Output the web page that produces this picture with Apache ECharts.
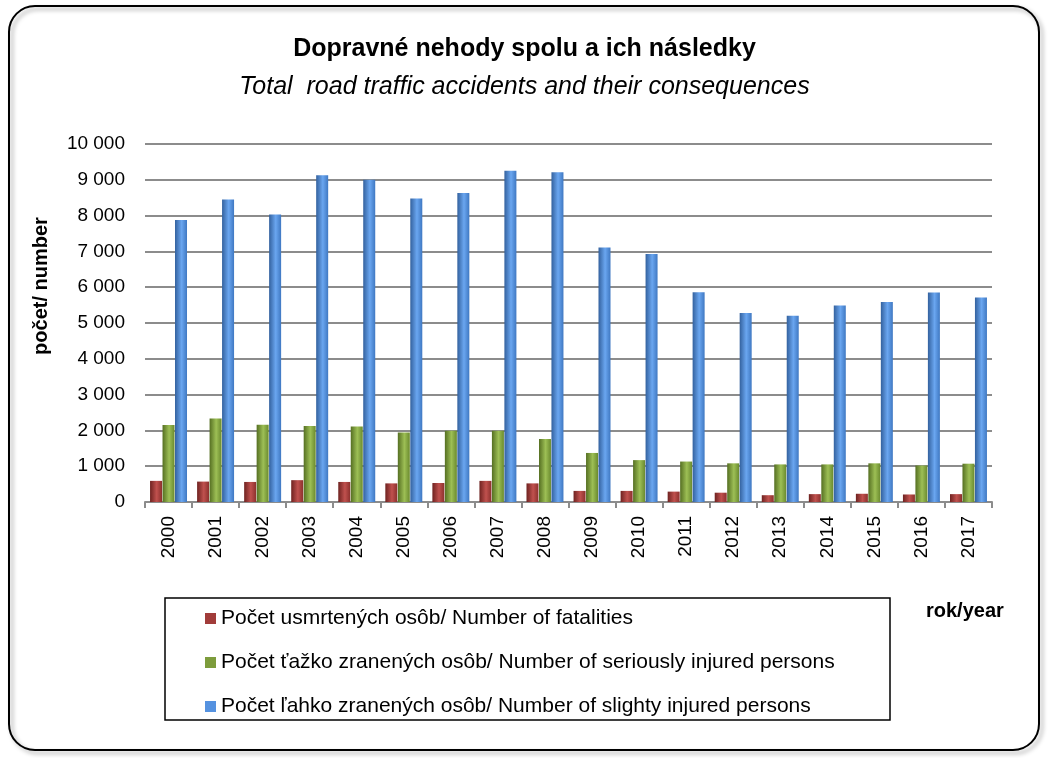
<!DOCTYPE html>
<html>
<head>
<meta charset="utf-8">
<script src="https://cdn.jsdelivr.net/npm/echarts@6/dist/echarts.min.js"></script>
<style>
html, body { margin: 0; padding: 0; background: #fff; }
#chart { width: 1049px; height: 758px; }
</style>
</head>
<body>
<div id="chart"></div>
<script>
// roky / years
var years = ['2000','2001','2002','2003','2004','2005','2006','2007','2008',
	'2009','2010','2011','2012','2013','2014','2015','2016','2017'];

// usmrtené osoby / fatalities
var fatalities = [590, 570, 560, 610, 560, 520, 530, 590, 520,
	310, 310, 290, 260, 190, 220, 230, 210, 220];

// ťažko zranené / seriously injured
var seriousInjured = [2150, 2330, 2160, 2120, 2110, 1940, 1990, 1990, 1760,
	1370, 1170, 1130, 1080, 1050, 1050, 1080, 1020, 1070];

// ľahko zranené / slightly injured
var slightInjured = [7880, 8450, 8030, 9130, 9000, 8480, 8630, 9250, 9210,
	7110, 6930, 5860, 5280, 5200, 5490, 5590, 5850, 5710];

var seriesNames = [
	'Počet usmrtených osôb/ Number of fatalities',
	'Počet ťažko zranených osôb/ Number of seriously injured persons',
	'Počet ľahko zranených osôb/ Number of slighty injured persons'
];

var flatColors = ['#a13c3a', '#7d9c3c', '#5592e0'];

// valcovy efekt - gradient zlava doprava
var cyl = function (dark, light, mid) {
	return new echarts.graphic.LinearGradient(0, 0, 1, 0, [
		{ offset: 0, color: dark },
		{ offset: 0.55, color: light },
		{ offset: 1, color: mid }
	]);
};

var fmt = function (v) {
	return String(v).replace(/\B(?=(\d{3})+(?!\d))/g, ' ');
};

var chart = echarts.init(document.getElementById('chart'));

var option = {
	backgroundColor: '#fff',
	animation: false,
	title: [{
		text: 'Dopravné nehody spolu a ich následky',
		left: 'center',
		top: 32,
		textStyle: { fontFamily: 'Liberation Sans', fontWeight: 'bold', fontSize: 25, color: '#000' }
	}, {
		text: 'Total  road traffic accidents and their consequences',
		left: 'center',
		top: 70,
		textStyle: { fontFamily: 'Liberation Sans', fontStyle: 'italic', fontWeight: 'normal', fontSize: 25, color: '#000' }
	}],
	grid: { left: 145, right: 57, top: 144, bottom: 256 },
	legend: {
		orient: 'vertical',
		left: 200,
		top: 603,
		itemWidth: 11,
		itemHeight: 11,
		itemGap: 23,
		icon: 'rect',
		textStyle: { fontFamily: 'Liberation Sans', fontSize: 21, color: '#000' },
		data: seriesNames.map(function (n, i) {
			return { name: n, itemStyle: { color: flatColors[i] } };
		})
	},
	xAxis: {
		type: 'category',
		data: years,
		axisLine: { lineStyle: { color: '#8c8c8c', width: 2 } },
		axisTick: { show: true, length: 6, lineStyle: { color: '#8c8c8c', width: 2 } },
		axisLabel: { rotate: 90, margin: 14, fontFamily: 'Liberation Sans', fontSize: 19, color: '#000' }
	},
	yAxis: {
		type: 'value',
		min: 0,
		max: 10000,
		interval: 1000,
		axisLine: { show: false },
		axisTick: { show: false },
		axisLabel: { margin: 20, fontFamily: 'Liberation Sans', fontSize: 19, color: '#000', formatter: fmt },
		splitLine: { lineStyle: { color: '#8c8c8c', width: 2 } }
	},
	series: [{
		name: seriesNames[0],
		type: 'bar',
		barWidth: 12,
		barGap: '4%',
		data: fatalities,
		itemStyle: { color: cyl('#6e2220', '#c0514e', '#8c302d') }
	}, {
		name: seriesNames[1],
		type: 'bar',
		barWidth: 12,
		barGap: '4%',
		data: seriousInjured,
		itemStyle: { color: cyl('#556f22', '#9dbf55', '#6a8a2e') }
	}, {
		name: seriesNames[2],
		type: 'bar',
		barWidth: 12,
		barGap: '4%',
		data: slightInjured,
		itemStyle: { color: cyl('#33619e', '#6aa6f0', '#3f78c2') }
	}],
	graphic: [{
		type: 'rect',
		shape: { x: 9, y: 6, width: 1030, height: 744, r: 26 },
		style: { fill: 'none', stroke: '#000', lineWidth: 2, shadowBlur: 4, shadowOffsetX: 3, shadowOffsetY: 3, shadowColor: 'rgba(0,0,0,0.35)' },
		z: 100
	}, {
		type: 'rect',
		shape: { x: 165, y: 598, width: 725, height: 122 },
		style: { fill: 'none', stroke: '#000', lineWidth: 1.5 },
		z: 100
	}, {
		type: 'text',
		x: 41,
		y: 286,
		rotation: Math.PI / 2,
		style: { text: 'počet/ number', align: 'center', verticalAlign: 'middle', fontFamily: 'Liberation Sans', fontWeight: 'bold', fontSize: 20, fill: '#000' }
	}, {
		type: 'text',
		left: 926,
		top: 601,
		style: { text: 'rok/year', fontFamily: 'Liberation Sans', fontWeight: 'bold', fontSize: 20, fill: '#000' }
	}]
};

chart.setOption(option);

window.onresize = function () {
	chart.resize();
};
</script>
</body>
</html>
